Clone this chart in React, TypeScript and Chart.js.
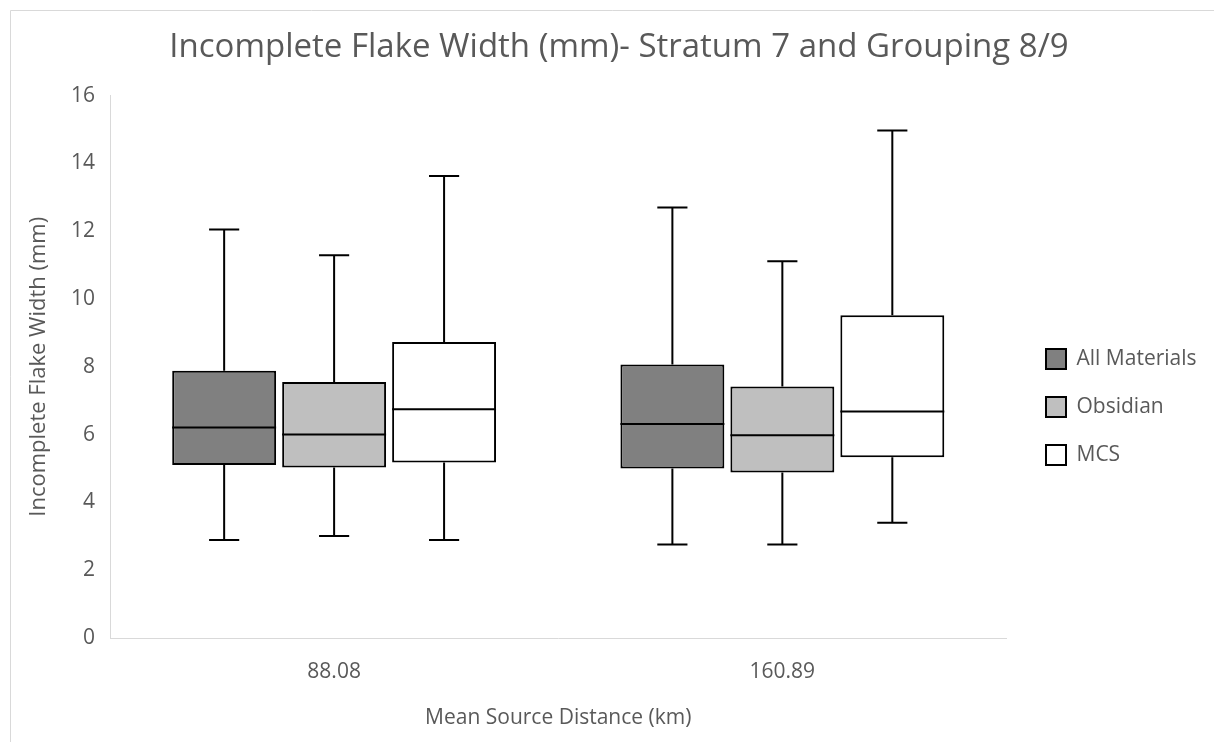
import React, { useEffect, useRef } from "react";
import { Chart, registerables } from "chart.js";

Chart.register(...registerables);

const categories = ["88.08", "160.89"];
const seriesNames = ["All Materials", "Obsidian", "MCS"];
const seriesColors = ["#808080", "#bfbfbf", "#ffffff"];

// [group 88.08, group 160.89]
const allMin = [2.89, 2.76];
const allQ1 = [5.1, 5.0];
const allMedian = [6.21, 6.31];
const allQ3 = [7.88, 8.07];
const allMax = [12.05, 12.7];

const obsMin = [3.01, 2.76];
const obsQ1 = [5.03, 4.88];
const obsMedian = [6.0, 5.98];
const obsQ3 = [7.55, 7.42];
const obsMax = [11.29, 11.11];

const mcsMin = [2.89, 3.4];
const mcsQ1 = [5.18, 5.33];
const mcsMedian = [6.75, 6.68];
const mcsQ3 = [8.73, 9.52];
const mcsMax = [13.63, 14.97];

const yTicks = [0, 2, 4, 6, 8, 10, 12, 14, 16];

const stats = [
  { min: allMin, q1: allQ1, med: allMedian, q3: allQ3, max: allMax },
  { min: obsMin, q1: obsQ1, med: obsMedian, q3: obsQ3, max: obsMax },
  { min: mcsMin, q1: mcsQ1, med: mcsMedian, q3: mcsQ3, max: mcsMax },
];

const FONT = "'Open Sans', 'DejaVu Sans', sans-serif";
const TEXT = "#595959";

const boxPlotPlugin = {
  id: "boxPlotWhiskers",
  afterDatasetsDraw(chart: any) {
    const ctx = chart.ctx;
    const y = chart.scales.y;
    ctx.save();
    ctx.strokeStyle = "#000000";
    ctx.lineWidth = 2;
    chart.data.datasets.forEach((ds: any, di: number) => {
      const meta = chart.getDatasetMeta(di);
      const s = stats[di];
      meta.data.forEach((el: any, i: number) => {
        const x = el.x;
        const w = el.width;
        const left = x - w / 2;
        const right = x + w / 2;
        const cap = w * 0.29;
        const pMin = y.getPixelForValue(s.min[i]);
        const pQ1 = y.getPixelForValue(s.q1[i]);
        const pMed = y.getPixelForValue(s.med[i]);
        const pQ3 = y.getPixelForValue(s.q3[i]);
        const pMax = y.getPixelForValue(s.max[i]);
        ctx.beginPath();
        ctx.moveTo(left, pMed);
        ctx.lineTo(right, pMed);
        ctx.moveTo(x, pQ3);
        ctx.lineTo(x, pMax);
        ctx.moveTo(x - cap / 2, pMax);
        ctx.lineTo(x + cap / 2, pMax);
        ctx.moveTo(x, pQ1);
        ctx.lineTo(x, pMin);
        ctx.moveTo(x - cap / 2, pMin);
        ctx.lineTo(x + cap / 2, pMin);
        ctx.stroke();
      });
    });
    ctx.restore();
  },
};

const framePlugin = {
  id: "frameLines",
  afterLayout(chart: any) {
    // fine placement of the title and legend blocks
    const t = chart.titleBlock;
    if (t) {
      const dx = 619 - (t.left + t.right) / 2;
      t.left += dx;
      t.right += dx;
    }
    const lg = chart.legend;
    if (lg) {
      const dx = 1019 - lg.left;
      lg.left += dx;
      lg.right += dx;
      lg.top += 31;
      lg.bottom += 31;
    }
  },
  beforeDraw(chart: any) {
    const ctx = chart.ctx;
    ctx.save();
    ctx.fillStyle = "#ffffff";
    ctx.fillRect(0, 0, chart.width, chart.height);
    ctx.strokeStyle = "#d9d9d9";
    ctx.lineWidth = 1;
    ctx.beginPath();
    ctx.moveTo(10.5, chart.height);
    ctx.lineTo(10.5, 10.5);
    ctx.lineTo(chart.width, 10.5);
    ctx.stroke();
    ctx.restore();
  },
};

export default function App() {
  const ref = useRef<HTMLCanvasElement>(null);
  useEffect(() => {
    if (!ref.current) return;
    const chart = new Chart(ref.current, {
      type: "bar",
      data: {
        labels: categories,
        datasets: seriesNames.map((name, di) => ({
          label: name,
          data: categories.map((_, i) => [stats[di].q1[i], stats[di].q3[i]]),
          backgroundColor: seriesColors[di],
          borderColor: "#000000",
          borderWidth: 2,
          borderSkipped: false,
          barPercentage: 0.945,
          categoryPercentage: 0.736,
        })),
      } as any,
      options: {
        animation: false,
        responsive: false,
        layout: { padding: { left: 11, top: 10, right: 20, bottom: 0 } },
        plugins: {
          tooltip: { enabled: false },
          title: {
            display: true,
            text: "Incomplete Flake Width (mm)- Stratum 7 and Grouping 8/9",
            color: TEXT,
            font: { family: FONT, size: 33, weight: "normal" },
            padding: { top: 18, bottom: 28 },
          },
          legend: {
            display: true,
            position: "right",
            align: "center",
            labels: {
              color: TEXT,
              font: { family: FONT, size: 21 },
              boxWidth: 20,
              boxHeight: 20,
              padding: 27,
            },
          },
        },
        scales: {
          x: {
            grid: { display: true, drawOnChartArea: false, drawTicks: false },
            border: { display: true, color: "#d9d9d9", width: 1 },
            ticks: { color: TEXT, font: { family: FONT, size: 21 }, padding: 21 },
            title: {
              display: true,
              text: "Mean Source Distance (km)",
              color: TEXT,
              font: { family: FONT, size: 21 },
              padding: { top: 0, bottom: 11 },
            },
            afterFit: (scale: any) => {
              scale.height = 104;
            },
          },
          y: {
            min: 0,
            max: 16,
            afterBuildTicks: (scale: any) => {
              scale.ticks = yTicks.map((v) => ({ value: v }));
            },
            grid: { display: true, drawOnChartArea: false, drawTicks: false },
            border: { display: true, color: "#d9d9d9", width: 1 },
            ticks: { color: TEXT, font: { family: FONT, size: 21 }, padding: 15 },
            title: {
              display: true,
              text: "Incomplete Flake Width (mm)",
              color: TEXT,
              font: { family: FONT, size: 22 },
              padding: { top: 15, bottom: 0 },
            },
            afterFit: (scale: any) => {
              scale.width = 99;
            },
          },
        },
      } as any,
      plugins: [framePlugin, boxPlotPlugin],
    });
    return () => chart.destroy();
  }, []);
  return (
    <div style={{ position: "fixed", left: 0, top: 0, width: 1214, height: 742 }}>
      <canvas ref={ref} width={1214} height={742} />
    </div>
  );
}
